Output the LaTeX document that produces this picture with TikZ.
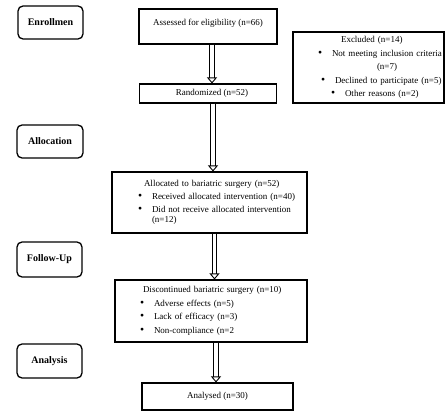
\documentclass[tikz,border=0pt]{standalone}
\usepackage{fontspec}
\setmainfont{Liberation Serif}
\usetikzlibrary{arrows.meta}

\newcommand{\blt}{\makebox[14pt][l]{\scalebox{1.3}{\textbullet}}}

\begin{document}
\begin{tikzpicture}[x=1pt,y=-1pt,
		% Okvirji in dvojne puščice
		box/.style={draw, line width=1.1pt, inner sep=0pt, font=\fontsize{9}{13.5}\selectfont},
		stage/.style={draw, line width=1.3pt, rounded corners=5pt, inner sep=0pt, font=\fontsize{10}{12}\selectfont\bfseries},
		dblarrow/.style={double, double distance=3.5pt, line width=0.9pt, -{Triangle[open, length=6pt, width=10pt]}}
		]
		\useasboundingbox (0,0) rectangle (445,412);
		\node[stage, minimum width=65pt, minimum height=33pt] (enrol) at (50.5,22.5) {Enrollmen};
		\node[stage, minimum width=66pt, minimum height=33pt] (alloc) at (50,141.5) {Allocation};
		\node[stage, minimum width=65pt, minimum height=35pt] (follow) at (49.5,259.5) {Follow-Up};
		\node[stage, minimum width=65pt, minimum height=34pt] (anal) at (49.5,361) {Analysis};
		\node[box, minimum width=138pt, minimum height=35pt, text depth=9pt] (assess) at (208,26.5) {Assessed for eligibility (n=66)};
		\node[box, minimum width=137pt, minimum height=19pt] (rand) at (208,93.5) {\hspace*{8pt}Randomized (n=52)};
		\node[box, minimum width=151pt, minimum height=71pt, text width=151pt, align=left] (excl) at (368.5,67.5) {%
			\hspace*{48pt}\mbox{Excluded (n=14)}\\
			\hspace*{25pt}\blt\mbox{Not meeting inclusion criteria}\\
			\hspace*{84pt}\mbox{(n=7)}\\
			\hspace*{28pt}\blt\mbox{Declined to participate (n=5)}\\
			\hspace*{38pt}\blt\mbox{Other reasons (n=2)}};
		\node[box, minimum width=195pt, minimum height=61pt, text width=195pt, align=left] (allocd) at (209.5,202.5) {%
			\hspace*{32pt}Allocated to bariatric surgery (n=52)\\[-0.5pt]
			\hspace*{26pt}\blt Received allocated intervention (n=40)\\[-0.5pt]
			\hspace*{26pt}\blt\makebox[144pt][s]{Did not receive allocated intervention}\\[-3pt]
			\hspace*{40pt}(n=12)};
		\node[box, minimum width=192pt, minimum height=62pt, text width=192pt, align=left] (disc) at (211,311) {%
			\hspace*{28pt}Discontinued bariatric surgery (n=10)\\
			\hspace*{25pt}\blt Adverse effects (n=5)\\
			\hspace*{25pt}\blt Lack of efficacy (n=3)\\
			\hspace*{25pt}\blt Non-compliance (n=2};
		\node[box, minimum width=151pt, minimum height=27pt] (analysed) at (217.5,396.5) {Analysed (n=30)};
		\draw[dblarrow] ([xshift=4pt]assess.south) -- ([xshift=4pt]assess.south |- rand.north);
		\draw[dblarrow] ([xshift=5pt]rand.south) -- ([xshift=5pt]rand.south |- allocd.north);
		\draw[dblarrow] ([xshift=5pt]allocd.south) -- ([xshift=5pt]allocd.south |- disc.north);
		\draw[dblarrow] ([xshift=5pt]disc.south) -- ([xshift=5pt]disc.south |- analysed.north);
	\end{tikzpicture}
\end{document}
